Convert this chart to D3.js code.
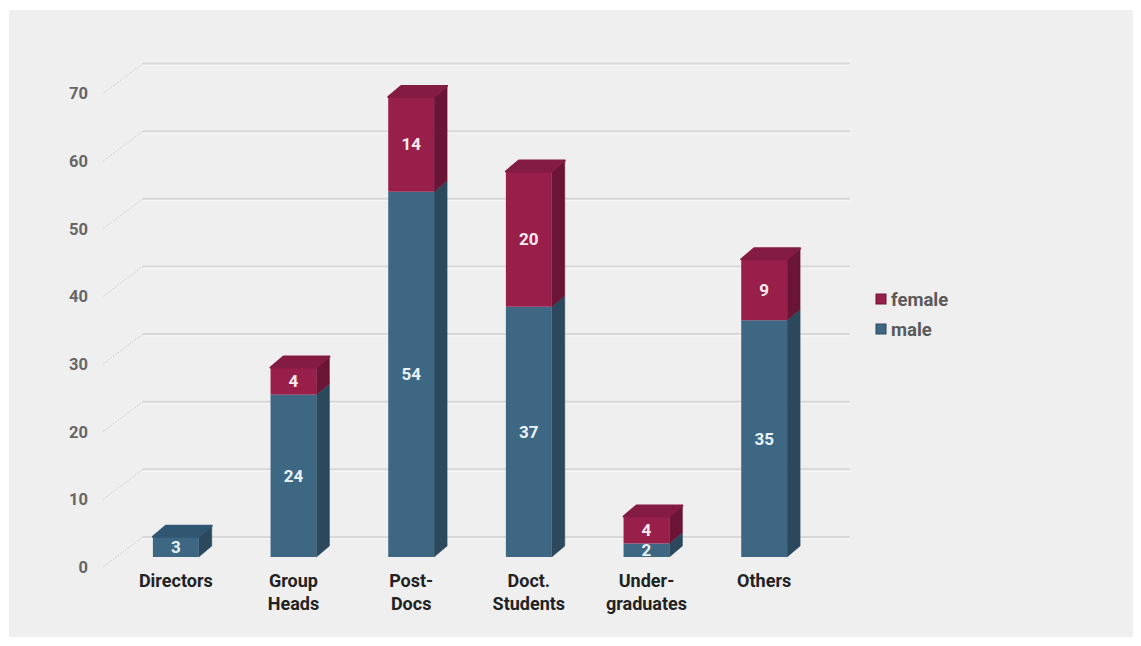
<!DOCTYPE html>
<html>
<head>
<meta charset="utf-8">
<script src="https://cdn.jsdelivr.net/npm/d3@7"></script>
<style>
  html, body { margin: 0; padding: 0; background: #ffffff; }
  svg { display: block; }
  text { font-family: Roboto, "Noto Sans", sans-serif; }
</style>
</head>
<body>
<svg id="chart" width="1141" height="646"></svg>
<script>
// Staff by position, split by gender
const categories = ["Directors", "Group Heads", "Post-Docs", "Doct. Students", "Under-graduates", "Others"];
const categoryLines = [["Directors"], ["Group", "Heads"], ["Post-", "Docs"], ["Doct.", "Students"], ["Under-", "graduates"], ["Others"]];
const male = [3, 24, 54, 37, 2, 35];
const female = [0, 4, 14, 20, 4, 9];
const yTicks = [0, 10, 20, 30, 40, 50, 60, 70];
const seriesNames = ["female", "male"];

const colors = {
  male:   { front: "#3e6783", side: "#2b485c", top: "#315671" },
  female: { front: "#991f4b", side: "#6a1535", top: "#831b42" }
};

const svg = d3.select("#chart");

// panel background
svg.append("rect").attr("x", 9).attr("y", 10).attr("width", 1124).attr("height", 627)
  .attr("fill", "#efefef");

// back wall scale and depth offsets
const y = d3.scaleLinear().domain([0, 70]).range([537, 63.5]);
const wallX0 = 143, wallX1 = 850;
const axisDX = -40, axisDY = 30;   // from back wall to front axis
const barDY = 20;                  // bar front base below wall zero
const depthX = 13, depthY = -11;   // bar side depth

const x = d3.scaleBand().domain(categories).range([117, 823]).padding(0);
const barW = x.bandwidth() * 0.39;

// gridlines on the back wall
const grid = svg.append("g");
yTicks.forEach(t => {
  grid.append("line").attr("x1", wallX0).attr("x2", wallX1)
    .attr("y1", y(t)).attr("y2", y(t))
    .attr("stroke", "#d8d8d8").attr("stroke-width", 2);
  grid.append("line").attr("x1", wallX0).attr("x2", wallX1)
    .attr("y1", y(t) + 1.8).attr("y2", y(t) + 1.8)
    .attr("stroke", "#f7f7f7").attr("stroke-width", 1);
  // receding side-wall line
  grid.append("line").attr("x1", wallX0).attr("y1", y(t))
    .attr("x2", wallX0 + axisDX).attr("y2", y(t) + axisDY)
    .attr("stroke", "#c9c9c9").attr("stroke-width", 1)
    .attr("stroke-dasharray", "1.5,1.5");
});

// y axis labels on the front edge
svg.append("g").selectAll("text").data(yTicks).join("text")
  .attr("x", 88).attr("y", d => y(d) + axisDY)
  .attr("dy", "0.36em")
  .attr("text-anchor", "end")
  .attr("font-size", 16.5).attr("font-weight", "bold")
  .attr("fill", "#666666")
  .text(d => d);

// stacked data
const rows = categories.map((c, i) => ({ cat: c, male: male[i], female: female[i] }));
const stack = d3.stack().keys(["male", "female"])(rows);

const barsG = svg.append("g");

function drawBox(g, x0, yTop, yBot, col, hasTop) {
  const x1 = x0 + barW;
  // side face
  g.append("path")
    .attr("d", `M${x1},${yBot} L${x1 + depthX},${yBot + depthY} L${x1 + depthX},${yTop + depthY} L${x1},${yTop} Z`)
    .attr("fill", col.side).attr("stroke", col.side).attr("stroke-width", 0.5);
  // front face
  g.append("rect").attr("x", x0).attr("y", yTop).attr("width", barW).attr("height", yBot - yTop)
    .attr("fill", col.front);
  if (hasTop) {
    g.append("path")
      .attr("d", `M${x0},${yTop} L${x0 + depthX},${yTop + depthY} L${x1 + depthX},${yTop + depthY} L${x1},${yTop} Z`)
      .attr("fill", col.top).attr("stroke", col.top).attr("stroke-width", 2)
      .attr("stroke-linejoin", "round");
  }
}

const base = y(0) + barDY;
const yBar = v => base - (y(0) - y(v));

rows.forEach((r, i) => {
  const cx = x(r.cat) + x.bandwidth() / 2;
  const x0 = cx - barW / 2;
  const g = barsG.append("g");
  stack.forEach(s => {
    const d = s[i];
    const v = d[1] - d[0];
    if (v <= 0) return;
    const isTop = d[1] === r.male + r.female;
    drawBox(g, x0, yBar(d[1]), yBar(d[0]), colors[s.key], isTop);
  });
  stack.forEach(s => {
    const d = s[i];
    const v = d[1] - d[0];
    if (v <= 0) return;
    g.append("text")
      .attr("x", cx).attr("y", (yBar(d[0]) + yBar(d[1])) / 2)
      .attr("dy", "0.36em").attr("text-anchor", "middle")
      .attr("font-size", 17).attr("font-weight", "bold")
      .attr("fill", s.key === "male" ? "#e8f2fa" : "#fbeaf0")
      .text(v);
  });
  // category label
  const lab = svg.append("text")
    .attr("text-anchor", "middle")
    .attr("font-size", 18).attr("font-weight", "bold")
    .attr("fill", "#222222");
  categoryLines[i].forEach((ln, k) => {
    lab.append("tspan").attr("x", cx).attr("y", 587 + k * 23).text(ln);
  });
});

// legend
const leg = svg.append("g");
seriesNames.forEach((n, k) => {
  const ly = 299 + k * 30;
  leg.append("rect").attr("x", 876).attr("y", ly - 5).attr("width", 10).attr("height", 10)
    .attr("fill", colors[n].front).attr("stroke", colors[n].side).attr("stroke-width", 1);
  leg.append("text").attr("x", 891).attr("y", ly).attr("dy", "0.36em")
    .attr("font-size", 18.5).attr("font-weight", "bold").attr("fill", "#5a5a5a")
    .text(n);
});
</script>
</body>
</html>
